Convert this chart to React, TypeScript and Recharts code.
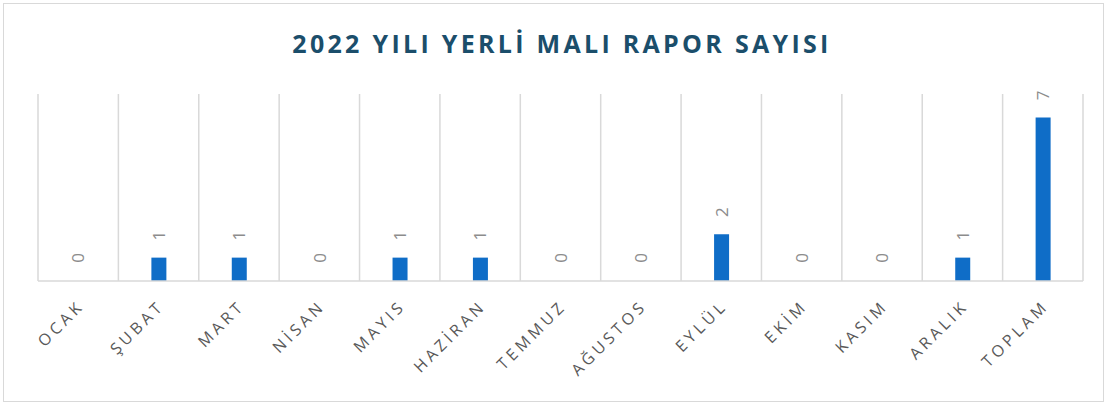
import { BarChart, Bar, XAxis, YAxis, CartesianGrid, LabelList, Rectangle } from "recharts";

const months = ["OCAK", "ŞUBAT", "MART", "NİSAN", "MAYIS", "HAZİRAN", "TEMMUZ", "AĞUSTOS", "EYLÜL", "EKİM", "KASIM", "ARALIK", "TOPLAM"];
const counts = [0, 1, 1, 0, 1, 1, 0, 0, 2, 0, 0, 1, 7];

const data = months.map((m, i) => ({ name: m, value: counts[i] }));

const W = 1107;
const H = 405;

// rotated category labels, ending just under the category centre
const MonthTick = (props: any) => {
    const { x, y, payload } = props;
    return (
        <g transform={`translate(${x + 3},${y + 14}) rotate(-45)`}>
            <text
                x={0}
                y={0}
                textAnchor="end"
                dy="0.35em"
                fill="#595959"
                fontSize={16}
                letterSpacing={3.8}
                fontFamily="'Open Sans', sans-serif"
            >
                {payload.value}
            </text>
        </g>
    );
};

// value labels turned sideways above the bars
const ValueLabel = (props: any) => {
    const { x, y, width, value } = props;
    const cx = x + width / 2;
    const cy = y - 22;
    return (
        <g transform={`translate(${cx},${cy}) rotate(-90)`}>
            <text
                x={0}
                y={0}
                textAnchor="middle"
                dy="0.35em"
                fill="#8c8c8c"
                fontSize={17}
                fontFamily="'Open Sans', sans-serif"
            >
                {value}
            </text>
        </g>
    );
};

// zero bars keep a 1px slot so their labels still get placed, but draw nothing
const BarShape = (props: any) => {
    if (!props.value) return <g />;
    return <Rectangle {...props} />;
};

export default function App() {
    return (
        <div style={{ position: "absolute", left: 0, top: 0, width: W, height: H, background: "#fff" }}>
            <div
                style={{
                    position: "absolute",
                    left: 3,
                    top: 3,
                    width: W - 6,
                    height: H - 6,
                    border: "1px solid #d9d9d9",
                    boxSizing: "border-box"
                }}
            />
            {/* title centred over the plot area */}
            <div
                style={{
                    position: "absolute",
                    left: 38,
                    top: 26,
                    width: 1045,
                    paddingLeft: 3,
                    boxSizing: "border-box",
                    textAlign: "center",
                    fontFamily: "'Open Sans', sans-serif",
                    fontWeight: 700,
                    fontSize: 25,
                    letterSpacing: 3.3,
                    color: "#1b4e6b"
                }}
            >
                2022 YILI YERLİ MALI RAPOR SAYISI
            </div>
            <div style={{ position: "absolute", left: 0, top: 0 }}>
                <BarChart
                    width={W}
                    height={H}
                    data={data}
                    margin={{ top: 94, left: 38, right: 24, bottom: 0 }}
                    barCategoryGap={0}
                >
                    <CartesianGrid
                        horizontal={false}
                        stroke="#d9d9d9"
                        strokeWidth={1.5}
                        verticalCoordinatesGenerator={({ offset }: any) =>
                            months.concat("").map((_, i) => offset.left + (i * offset.width) / months.length)
                        }
                    />
                    <XAxis
                        dataKey="name"
                        height={124}
                        interval={0}
                        tickLine={false}
                        axisLine={{ stroke: "#d9d9d9", strokeWidth: 1.5 }}
                        tick={<MonthTick />}
                    />
                    <YAxis hide domain={[0, 8]} />
                    <Bar
                        dataKey="value"
                        fill="#0f6dc7"
                        barSize={15}
                        minPointSize={1}
                        shape={<BarShape />}
                        isAnimationActive={false}
                    >
                        <LabelList dataKey="value" content={<ValueLabel />} />
                    </Bar>
                </BarChart>
            </div>
        </div>
    );
}
